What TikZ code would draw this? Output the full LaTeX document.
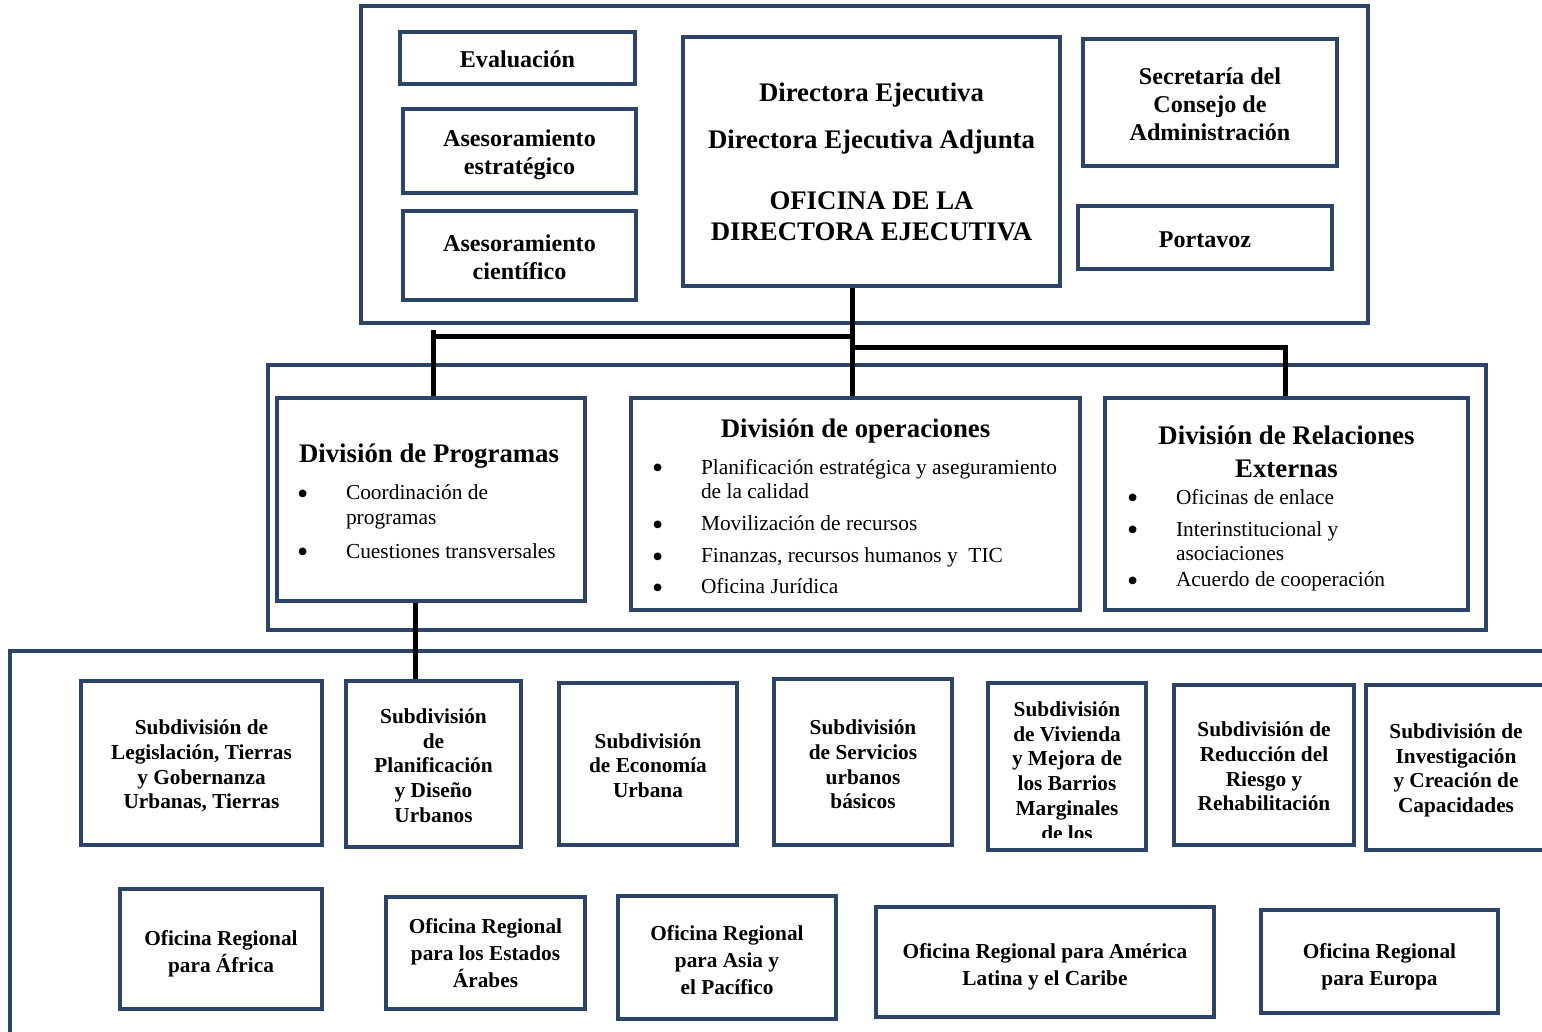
\documentclass[tikz,border=0pt]{standalone}
\usepackage{fontspec}
\setmainfont{Liberation Serif}
\usetikzlibrary{calc}
\definecolor{orgblue}{HTML}{2B4468}

\newcommand{\itembul}{\makebox[47pt][l]{\hspace*{-2pt}\raisebox{-4.5pt}{\fontsize{32}{32}\selectfont\textbullet}}}
\newcommand{\itemind}{\hspace*{47pt}}
\newcommand{\divtitle}[3]{\makebox[#1][#2]{\fontsize{26.8}{31}\selectfont\bfseries #3}}
% text block moved down inside its box, box size kept
\newcommand{\boxtext}[3][0pt]{\raisebox{-#1}[\height][\depth]{\begin{tabular}{@{}#2@{}}#3\end{tabular}}}

\tikzset{
  blueline/.style={draw=orgblue, line width=4pt},
  orgbox/.style={blueline, rectangle, inner sep=0pt, align=center,
    font=\fontsize{24.1}{28}\selectfont\bfseries},
  dirbox/.style={orgbox, font=\fontsize{26.8}{31}\selectfont\bfseries},
  divbox/.style={blueline, rectangle, inner sep=0pt, align=left,
    font=\fontsize{21.4}{24.5}\selectfont},
  subbox/.style={orgbox, font=\fontsize{21.3}{24.7}\selectfont\bfseries},
  regbox/.style={orgbox, font=\fontsize{21.3}{27}\selectfont\bfseries},
  link/.style={draw=black, line width=5pt}
}

\begin{document}
\begin{tikzpicture}[x=1pt,y=-1pt]
\useasboundingbox (0,0) rectangle (1542,1032);
\clip (0,0) rectangle (1542,1032);

% frames
\draw[blueline] (361,6) rectangle (1368,323);
\draw[blueline] (268,365) rectangle (1486,630);
\draw[blueline] (10,1060) -- (10,651) -- (1560,651);

% office of the director
\node[orgbox, minimum width=235, minimum height=52] (eval) at (517.5,58) {\boxtext[4pt]{c}{Evaluación}};
\node[orgbox, minimum width=233, minimum height=84] (strat) at (519.5,151) {\boxtext[4pt]{c}{Asesoramiento\\estratégico}};
\node[orgbox, minimum width=233, minimum height=89] (sci) at (519.5,255.5) {\boxtext[4pt]{c}{Asesoramiento\\científico}};
\node[dirbox, minimum width=377, minimum height=249] (dir) at (871.5,161.5)
  {\boxtext[3pt]{c}{Directora Ejecutiva\\[16pt]Directora Ejecutiva Adjunta\\[30pt]OFICINA DE LA\\DIRECTORA EJECUTIVA}};
\node[orgbox, minimum width=254, minimum height=127] (secr) at (1210,102.5) {\boxtext[4pt]{c}{Secretaría del\\Consejo de\\Administración}};
\node[orgbox, minimum width=254, minimum height=63] (spk) at (1205,237.5) {\boxtext[4pt]{c}{Portavoz}};

% divisions
\node[divbox, minimum width=308, minimum height=203] (prog) at (431,499.5) {\boxtext[5.5pt]{l}{%
  \divtitle{264pt}{l}{División de Programas}\\[12.5pt]%
  \itembul Coordinación de\\\itemind programas\\[9.5pt]%
  \itembul Cuestiones transversales}};
\node[divbox, minimum width=449, minimum height=212] (ops) at (855.5,504) {\boxtext[6pt]{l}{%
  \divtitle{403pt}{c}{División de operaciones}\\[12.5pt]%
  \itembul Planificación estratégica y aseguramiento\\\itemind de la calidad\\[7.5pt]%
  \itembul Movilización de recursos\\[7.5pt]%
  \itembul Finanzas, recursos humanos y \ TIC\\[6.5pt]%
  \itembul Oficina Jurídica}};
\node[divbox, minimum width=363, minimum height=212] (ext) at (1286.5,504) {\boxtext[6pt]{l}{%
  \divtitle{315pt}{c}{División de Relaciones}\\[7.5pt]%
  \divtitle{315pt}{c}{Externas}\\[2.5pt]%
  \itembul Oficinas de enlace\\[7.5pt]%
  \itembul Interinstitucional y\\\itemind asociaciones\\[1.5pt]%
  \itembul Acuerdo de cooperación}};

% subdivisions
\node[subbox, minimum width=241, minimum height=164] (leg) at (201.5,763) {\boxtext[4pt]{c}{Subdivisión de\\Legislación, Tierras\\y Gobernanza\\Urbanas, Tierras}};
\node[subbox, minimum width=175, minimum height=166] (plan) at (433.5,764) {\boxtext[4pt]{c}{Subdivisión\\de\\Planificación\\y Diseño\\Urbanos}};
\node[subbox, minimum width=178, minimum height=162] (econ) at (648,764) {\boxtext[4pt]{c}{Subdivisión\\de Economía\\Urbana}};
\node[subbox, minimum width=178, minimum height=166] (serv) at (863,762) {\boxtext[5pt]{c}{Subdivisión\\de Servicios\\urbanos\\básicos}};
\node[subbox, minimum width=158, minimum height=167] (viv) at (1067,766.5) {};
\begin{scope}
  \clip (988,683) rectangle (1146,837);
  \node[subbox, draw=none] (vivT) at (1067,771) {Subdivisión\\de Vivienda\\y Mejora de\\los Barrios\\Marginales\\de los};
\end{scope}
\node[subbox, minimum width=180, minimum height=160] (risk) at (1264,765) {\boxtext[4pt]{c}{Subdivisión de\\Reducción del\\Riesgo y\\Rehabilitación}};
\node[subbox, minimum width=180, minimum height=165] (res) at (1456,767.5) {\boxtext[3pt]{c}{Subdivisión de\\Investigación\\y Creación de\\Capacidades}};

% regional offices
\node[regbox, minimum width=202, minimum height=120] (afr) at (221,949) {\boxtext[5pt]{c}{Oficina Regional\\para África}};
\node[regbox, minimum width=199, minimum height=112] (arab) at (485.5,953) {\boxtext[2pt]{c}{Oficina Regional\\para los Estados\\Árabes}};
\node[regbox, minimum width=218, minimum height=123] (asia) at (727,957.5) {\boxtext[5pt]{c}{Oficina Regional\\para Asia y\\el Pacífico}};
\node[regbox, minimum width=338, minimum height=110] (lac) at (1045,962) {\boxtext[5pt]{c}{Oficina Regional para América\\Latina y el Caribe}};
\node[regbox, minimum width=237, minimum height=103] (eur) at (1379.5,961.5) {\boxtext[5pt]{c}{Oficina Regional\\para Europa}};

% connectors
\coordinate (jc) at (852,336);
\coordinate (jl) at (433,330);
\coordinate (jr) at (1285,347);
\coordinate (jd) at (415,0);
\draw[link] (jc |- dir.south) -- (jc |- ops.north);
\draw[link] (jl) -- (jl |- prog.north);
\draw[link] (jl |- jc) -- (jc);
\draw[link] (jc |- jr) -- (jr) -- (jr |- ext.north);
\draw[link] (jd |- prog.south) -- (jd |- plan.north);
\end{tikzpicture}
\end{document}
